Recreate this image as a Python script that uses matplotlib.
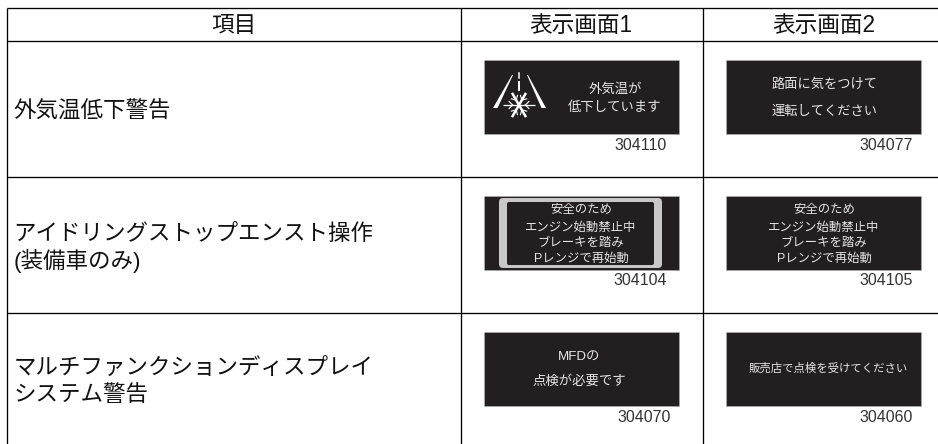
import matplotlib
matplotlib.use('Agg')
import matplotlib.pyplot as plt
from matplotlib.patches import Rectangle, FancyBboxPatch, Polygon
import numpy as np

plt.rcParams['font.family'] = ['Liberation Sans', 'Noto Sans CJK JP']

W, H = 938, 444
DARK = '#231f20'

headers = ['項目', '表示画面1', '表示画面2']
row_labels = [['外気温低下警告'],
              ['アイドリングストップエンスト操作', '(装備車のみ)'],
              ['マルチファンクションディスプレイ', 'システム警告']]
screen1_text = [['外気温が', '低下しています'],
                ['安全のため', 'エンジン始動禁止中', 'ブレーキを踏み', 'Pレンジで再始動'],
                ['MFDの', '点検が必要です']]
screen2_text = [['路面に気をつけて', '運転してください'],
                ['安全のため', 'エンジン始動禁止中', 'ブレーキを踏み', 'Pレンジで再始動'],
                ['販売店で点検を受けてください']]
screen1_code = ['304110', '304104', '304070']
screen2_code = ['304077', '304105', '304060']

# 表の罫線 (ピクセル座標)
hlines = [8, 41, 177, 313]
vlines = [7, 461, 703]
row_top = [60, 196, 332]
header_x = [234, 581, 824]
label_y = [[111], [233, 260], [367, 394]]
line_y1 = [[88, 106], [208, 226, 241, 257], [355, 380]]
line_y2 = [[83, 110], [208, 226, 241, 257], [367]]
text_x1 = [615, 581, 579]
text_x2 = [825, 824, 828]
size1 = [9.6, 8.9, 9.6]
size2 = [9.5, 8.9, 8.2]
code_y = [145.5, 280.5, 417.5]
code_x1 = [667, 667, 671]
panel_x = [484, 726]
panel_w, panel_h = 195, 74


def draw_icon(ax):
    # 道路
    ax.add_patch(Polygon([(493, 108), (497.5, 108), (513, 75), (512, 75)], color='white', lw=0))
    ax.add_patch(Polygon([(546, 108), (541.5, 108), (527, 75), (528, 75)], color='white', lw=0))
    ax.plot([519, 519], [73, 78], color='white', lw=1.1)
    ax.plot([519, 519], [82, 90], color='white', lw=1.4)
    # 雪の結晶
    cx, cy = 519, 105
    for deg, r, lw in [(0, 16, 0.9), (60, 14, 1.8), (120, 14, 1.8)]:
        a = np.radians(deg)
        dx, dy = r * np.cos(a), r * np.sin(a)
        ax.plot([cx - dx, cx + dx], [cy - dy, cy + dy], color='white', lw=lw, solid_capstyle='butt')
        for s in (-1, 1):
            px, py = cx + s * dx * 0.4, cy + s * dy * 0.4
            base = a if s > 0 else a + np.pi
            for off in (45, -45):
                b = base + np.radians(off)
                ax.plot([px, px + 5 * np.cos(b)], [py, py + 5 * np.sin(b)], color='white', lw=0.8)


fig = plt.figure(figsize=(W / 100, H / 100), dpi=100)
ax = fig.add_axes([0, 0, 1, 1])
ax.set_xlim(0, W)
ax.set_ylim(H, 0)
ax.axis('off')

for y in hlines:
    ax.plot([vlines[0] - 0.5, W], [y, y], color='black', lw=0.95, solid_capstyle='butt')
for x in vlines:
    ax.plot([x, x], [hlines[0], H], color='black', lw=0.95, solid_capstyle='butt')

for x, s in zip(header_x, headers):
    ax.text(x, 25.5, s, ha='center', va='center', fontsize=16.3, color='#111111')

for ys, lines in zip(label_y, row_labels):
    for y, s in zip(ys, lines):
        ax.text(13.5, y + 1, s, ha='left', va='center', fontsize=16.2, color='#111111')

for i in range(3):
    for px in panel_x:
        ax.add_patch(Rectangle((px, row_top[i]), panel_w, panel_h, fc=DARK, ec='#b5b5b5', lw=0.4))
    if i == 1:
        ax.add_patch(FancyBboxPatch((502, 201), 157, 64, boxstyle='round,pad=3,rounding_size=4',
                                    fc='#c8c8c8', ec='none'))
        ax.add_patch(FancyBboxPatch((507, 202), 147, 63, boxstyle='round,pad=0,rounding_size=2',
                                    fc=DARK, ec='none'))
    for s, y in zip(screen1_text[i], line_y1[i]):
        ax.text(text_x1[i], y + 1.5, s, ha='center', va='center', fontsize=size1[i], color='#e6e6e6')
    for s, y in zip(screen2_text[i], line_y2[i]):
        ax.text(text_x2[i], y + 1.5, s, ha='center', va='center', fontsize=size2[i], color='#e6e6e6')
    ax.text(code_x1[i], code_y[i], screen1_code[i], ha='right', va='center', fontsize=11.5, color='#333333')
    ax.text(913, code_y[i], screen2_code[i], ha='right', va='center', fontsize=11.5, color='#333333')

draw_icon(ax)

fig.savefig('out.png', dpi=100)
